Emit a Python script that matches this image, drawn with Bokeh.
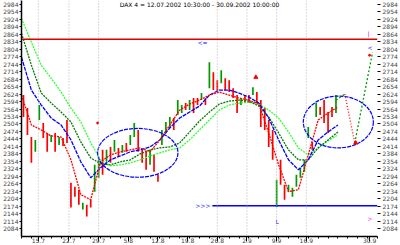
from bokeh.plotting import figure
from bokeh.models import Range1d, LinearAxis, FixedTicker, Span, Label, ColumnDataSource
from bokeh.embed import file_html
from bokeh.resources import INLINE
from bokeh.core.properties import value

# ---- bars (index, high, low, direction 1=up 0=down)
bar_x = [i + 0.5 for i in range(80)]
bar_high = [2620, 2568, 2452, 2440, 2580, 2508, 2468, 2460, 2468, 2452,
            2448, 2520, 2268, 2252, 2240, 2188, 2180, 2200, 2340, 2360,
            2400, 2400, 2412, 2440, 2408, 2420, 2428, 2460, 2508, 2480,
            2400, 2392, 2400, 2380, 2300, 2480, 2512, 2532, 2528, 2600,
            2580, 2588, 2600, 2608, 2608, 2628, 2608, 2752, 2712, 2680,
            2720, 2688, 2680, 2648, 2620, 2608, 2620, 2620, 2652, 2632,
            2600, 2568, 2520, 2480, 2280, 2360, 2260, 2260, 2248, 2300,
            2328, 2360, 2492, 2432, 2588, 2572, 2600, 2552, 2572, 2620]
bar_low = [2532, 2460, 2348, 2392, 2520, 2448, 2392, 2432, 2392, 2420,
           2416, 2428, 2168, 2212, 2180, 2160, 2132, 2168, 2232, 2288,
           2300, 2352, 2348, 2392, 2372, 2388, 2392, 2420, 2452, 2392,
           2348, 2320, 2340, 2312, 2272, 2420, 2468, 2488, 2480, 2540,
           2548, 2560, 2560, 2548, 2580, 2600, 2580, 2648, 2640, 2632,
           2668, 2640, 2632, 2608, 2548, 2580, 2588, 2588, 2620, 2588,
           2492, 2480, 2412, 2360, 2172, 2260, 2200, 2232, 2212, 2252,
           2288, 2312, 2448, 2400, 2532, 2540, 2508, 2468, 2532, 2548]
bar_up = [0, 0, 0, 1, 1, 0, 0, 1, 0, 1,
          0, 0, 0, 0, 0, 1, 0, 0, 1, 1,
          0, 1, 0, 1, 0, 1, 0, 1, 1, 0,
          0, 0, 1, 0, 0, 1, 1, 1, 0, 1,
          1, 0, 1, 0, 0, 1, 0, 1, 0, 0,
          1, 0, 0, 0, 0, 1, 0, 0, 1, 0,
          0, 0, 0, 0, 1, 0, 0, 1, 1, 1,
          1, 1, 1, 0, 1, 0, 0, 0, 0, 1]

# ---- moving averages
ma_x = [i * 2.5 for i in range(33)]
ma_fast = [2620, 2500, 2480, 2456, 2452, 2360, 2220, 2200, 2352, 2380,
           2392, 2400, 2408, 2392, 2440, 2500, 2560, 2584, 2600, 2620,
           2632, 2620, 2608, 2600, 2584, 2468, 2340, 2232, 2240, 2380,
           2520, 2548, 2572]
ma_mid = [2772, 2640, 2580, 2528, 2500, 2440, 2352, 2288, 2328, 2360,
          2376, 2392, 2400, 2412, 2440, 2488, 2528, 2552, 2576, 2620,
          2640, 2640, 2628, 2612, 2588, 2528, 2440, 2360, 2320, 2360,
          2440, 2472, 2500]
ma_slow = [2868, 2740, 2628, 2588, 2552, 2512, 2432, 2368, 2344, 2340,
           2352, 2360, 2384, 2400, 2408, 2412, 2428, 2472, 2516, 2552,
           2584, 2596, 2600, 2596, 2576, 2532, 2468, 2400, 2360, 2360,
           2408, 2440, 2472]
ma_long = [2928, 2832, 2740, 2688, 2632, 2568, 2512, 2428, 2360, 2336,
           2340, 2348, 2360, 2376, 2388, 2400, 2408, 2440, 2480, 2520,
           2560, 2580, 2588, 2592, 2584, 2560, 2528, 2472, 2408, 2380,
           2408, 2436, 2460]

# ---- projection, levels, ellipses, markers
proj_up1_x = [79.5, 81.75]
proj_up1_y = [2600, 2624]
proj_dn_x = [81.75, 84.25]
proj_dn_y = [2624, 2428]
proj_up2_x = [84.25, 88.75]
proj_up2_y = [2428, 2792]
level_red = 2844
level_blue = 2176
level_blue_start = 48.25
ell_x = [29.4, 80.1]
ell_y = [2388, 2512]
ell_w = [20.3, 17.7]
ell_h = [196, 208]
tri_x = [59.25, 84.5]
tri_y = [2692, 2428]

# ---- axes
y_ticks = [2984 - 30 * k for k in range(31)]
x_major = [4.25, 12, 19.5, 27, 34.5, 42, 49.5, 57, 64.5, 72, 88]
x_labels = ["15.7", "22.7", "29.7", "5.8", "12.8", "19.8", "26.8", "2.9", "9.9", "16.9", "30.9"]
x_grid = [4.25, 12, 19.5, 49.5, 57, 64.5, 72]
x_minor = [k * 2.5 for k in range(37)]
title_text = "DAX 4 = 12.07.2002 10:30:00 - 30.09.2002 10:00:00"

FONT = "DejaVu Sans"

p = figure(width=400, height=245, output_backend="svg", toolbar_location=None,
           x_range=Range1d(0, 90), y_range=Range1d(2052, 3000),
           min_border_left=20, min_border_right=19, min_border_top=0, min_border_bottom=8)
p.outline_line_color = None
p.grid.visible = False
p.background_fill_color = "white"
p.border_fill_color = "white"

# y axes
ya = p.yaxis[0]
ya.ticker = FixedTicker(ticks=y_ticks, minor_ticks=[])
ya.major_label_text_font_size = "6px"
ya.major_label_text_font = FONT
ya.major_tick_out = 2
ya.major_tick_in = 0
ya.minor_tick_out = 0
ya.major_label_standoff = 1
ya.axis_line_color = "black"
ya.axis_line_width = 1.5

ra = LinearAxis(ticker=FixedTicker(ticks=y_ticks, minor_ticks=[]))
ra.major_label_text_font_size = "6px"
ra.major_label_text_font = FONT
ra.major_tick_out = 3
ra.major_tick_in = 0
ra.minor_tick_out = 0
ra.major_label_standoff = 2
ra.axis_line_color = None
p.add_layout(ra, "right")

xa = p.xaxis[0]
xa.ticker = FixedTicker(ticks=x_major, minor_ticks=x_minor)
xa.major_label_overrides = {t: l for t, l in zip(x_major, x_labels)}
xa.major_label_text_font_size = "6px"
xa.major_label_text_font = FONT
xa.major_tick_out = 5
xa.major_tick_in = 0
xa.minor_tick_out = 2
xa.minor_tick_in = 0
xa.major_label_standoff = -4
xa.axis_line_color = "black"
xa.axis_line_width = 1.5

for g in x_grid:
    p.add_layout(Span(location=g, dimension="height", line_color="#b4b4b4",
                      line_dash="1 2", line_width=1))

p.add_layout(Span(location=level_red, dimension="width", line_color="#e00000", line_width=1.5))

# bars
colors = ["#009a00" if u else "#ff0000" for u in bar_up]
src = ColumnDataSource(dict(x=bar_x, hi=bar_high, lo=bar_low, c=colors))
p.segment(x0="x", y0="lo", x1="x", y1="hi", line_color="c", line_width=1.7, source=src)

# moving averages
p.line(ma_x, ma_long, line_color="#33ff33", line_width=1.3, line_dash="2 1")
p.line(ma_x, ma_slow, line_color="#007a00", line_width=1.3, line_dash="2 1")
p.line(ma_x, ma_mid, line_color="#0000ff", line_width=1.3, line_dash="4 1")
p.line(ma_x, ma_fast, line_color="#ff0000", line_width=1.3, line_dash="2 1")

# ellipses
p.ellipse(x=ell_x, y=ell_y, width=ell_w, height=ell_h, fill_color=None,
          line_color="#0000ff", line_width=1.2, line_dash="4 1")

# blue level
p.segment(x0=[level_blue_start], y0=[level_blue], x1=[90], y1=[level_blue],
          line_color="#0000ff", line_width=1.5)

# projections
p.line(proj_up1_x, proj_up1_y, line_color="#009a00", line_width=1.3, line_dash="2 2")
p.line(proj_dn_x, proj_dn_y, line_color="#ff0000", line_width=1.3, line_dash="1 2")
p.line(proj_up2_x, proj_up2_y, line_color="#009a00", line_width=1.3, line_dash="2 2")

p.scatter(tri_x, tri_y, marker="triangle", size=4, fill_color="#ff0000", line_color="#ff0000")
p.scatter([88], [2780], marker="circle", size=2, fill_color="#ff0000", line_color="#ff0000")
p.scatter([19.25], [2508], marker="circle", size=2, fill_color="#ff0000", line_color="#ff0000")

p.text(x=[44.0], y=[2176], text=[">>>"], text_font=value(FONT), text_font_size="6px",
       text_color="#0000ff", text_baseline="middle", text_align="left")
p.text(x=[44.5], y=[2832], text=["<="], text_font=value(FONT), text_font_size="6px",
       text_color="#0000ff", text_baseline="middle", text_align="left")
p.text(x=[87.5], y=[2812], text=["<"], text_font=value(FONT), text_font_size="6px",
       text_color="#0000ff", text_baseline="middle", text_align="left")
p.text(x=[64.2], y=[2112], text=["L"], text_font=value(FONT), text_font_size="6px",
       text_color="#0000ff", text_baseline="middle", text_align="left")
p.text(x=[87.5], y=[2868], text=["|"], text_font=value(FONT), text_font_size="6px",
       text_color="#cc00cc", text_baseline="middle", text_align="left")
p.text(x=[87.5], y=[2124], text=[">"], text_font=value(FONT), text_font_size="6px",
       text_color="#ff00ff", text_baseline="middle", text_align="left")

p.add_layout(Label(x=45, y=2982, text=title_text, text_font=FONT, text_font_size="6px",
                   text_align="center", text_baseline="middle", text_color="black"))

open("out.html", "w").write(file_html(p, INLINE))
